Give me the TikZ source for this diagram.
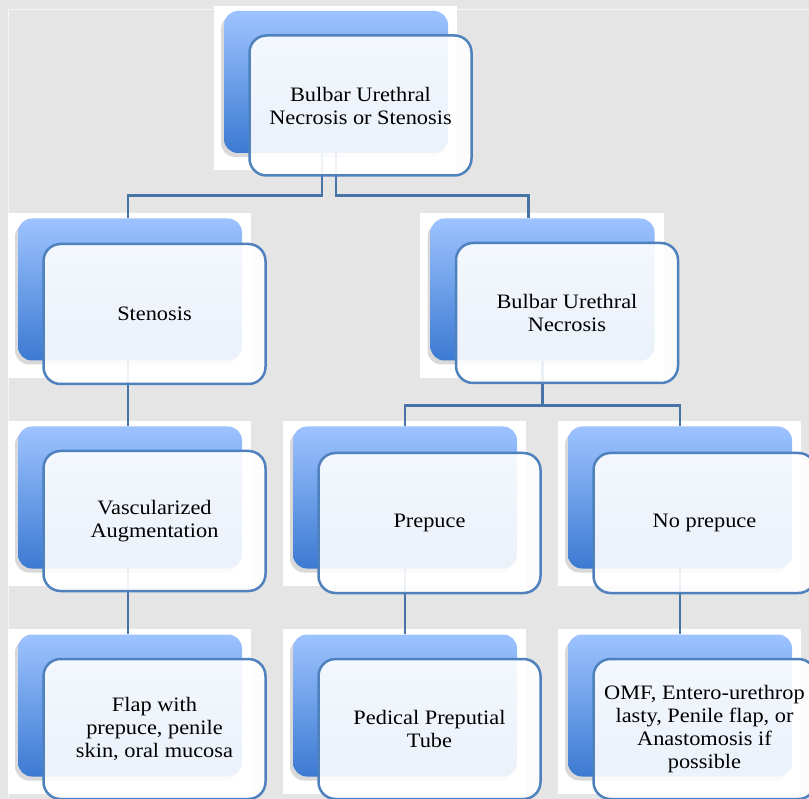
\documentclass[tikz,border=0pt]{standalone}
\usepackage{fontspec}
\setmainfont{Liberation Serif}[FakeStretch=1.09]
\usepackage{tikz}
\usetikzlibrary{calc}
\usetikzlibrary{shadows}

\definecolor{pagegray}{HTML}{E5E5E5}
\definecolor{boxline}{HTML}{4F81BD}
\definecolor{connline}{HTML}{4773A6}
\definecolor{backtop}{HTML}{9DC3FF}
\definecolor{backbot}{HTML}{3C7AD2}

\newcommand{\diagfont}{\fontsize{20.5pt}{23pt}\selectfont}

\pgfdeclarelayer{bg}
\pgfdeclarelayer{patch}
\pgfsetlayers{bg,patch,main}

\tikzset{
  backbox/.style={rounded corners=14pt, minimum width=224pt, minimum height=142pt,
    top color=backtop, bottom color=backbot, draw=none,
    drop shadow={shadow xshift=-3pt, shadow yshift=-4pt, opacity=.15, fill=black}},
  frontbox/.style={rounded corners=17pt, minimum width=222pt, minimum height=140pt,
    draw=boxline, line width=2.5pt, fill=white, fill opacity=.9, text opacity=1,
    align=center, font=\diagfont, inner sep=2pt},
  conn/.style={draw=connline, line width=2.8pt},
  patch/.style={fill=white}
}

\begin{document}
\begin{tikzpicture}[x=1pt, y=-1pt]

\clip (0,0) rectangle (809,799);
\useasboundingbox (0,0) rectangle (809,799);

% Root
\node[backbox] at (336,82) (root) {};
\node[frontbox] at (360.5,105.5) (root-t) {Bulbar Urethral\\Necrosis or Stenosis};

% Stenosis
\node[backbox] at (130,289.5) (sten) {};
\node[frontbox] at (154.5,314) (sten-t) {Stenosis};

% Bulbar Urethral Necrosis
\node[backbox] at (542.5,289.5) (necr) {};
\node[frontbox] at (567,313) (necr-t) {Bulbar Urethral\\Necrosis};

% Vascularized Augmentation
\node[backbox] at (130,497.5) (vasc) {};
\node[frontbox] at (154.5,521) (vasc-t) {Vascularized\\Augmentation};

% Prepuce
\node[backbox] at (405,497.5) (prep) {};
\node[frontbox] at (429.5,523) (prep-t) {Prepuce};

% No prepuce
\node[backbox] at (680,497.5) (noprep) {};
\node[frontbox] at (704.5,523) (noprep-t) {No prepuce};

% Flap
\node[backbox] at (130,705.5) (flap) {};
\node[frontbox] at (154.5,729) (flap-t) {Flap with\\prepuce, penile\\skin, oral mucosa};

% Tube
\node[backbox] at (405,705.5) (tube) {};
\node[frontbox] at (429.5,729) (tube-t) {Pedical Preputial\\Tube};

% OMF
\node[backbox] at (680,705.5) (omf) {};
\node[frontbox] at (704.5,729) (omf-t) {OMF, Entero-urethrop\\lasty, Penile flap, or\\Anastomosis if\\possible};

% Page
\begin{pgfonlayer}{bg}
\fill[pagegray] (0,0) rectangle (809,799);
\draw[white!60!pagegray, line width=1pt] (8,820) -- (8,10) -- (830,10);
\end{pgfonlayer}

% Patches and connectors
\begin{pgfonlayer}{patch}
\foreach \n in {root,sten,necr,vasc,prep,noprep,flap,tube,omf}
  \fill[patch] ($(\n.north west)+(-10,-5)$) rectangle ($(\n.south east)+(9,17)$);

\draw[conn] ([xshift=-14pt]root.south) -- ++(0,42) -| ([xshift=-2pt]sten.north);
\draw[conn] (root.south) -- ++(0,42) -| ([xshift=-14pt]necr.north);
\draw[conn] ([xshift=-2pt]sten.south) -- ([xshift=-2pt]vasc.north);
\draw[conn] ([xshift=-2pt]vasc.south) -- ([xshift=-2pt]flap.north);
\draw[conn] (necr.south) -- ++(0,45) -| (prep.north);
\draw[conn] (necr.south) -- ++(0,45) -| (noprep.north);
\draw[conn] (prep.south) -- (tube.north);
\draw[conn] (noprep.south) -- (omf.north);
\end{pgfonlayer}

\end{tikzpicture}
\end{document}
